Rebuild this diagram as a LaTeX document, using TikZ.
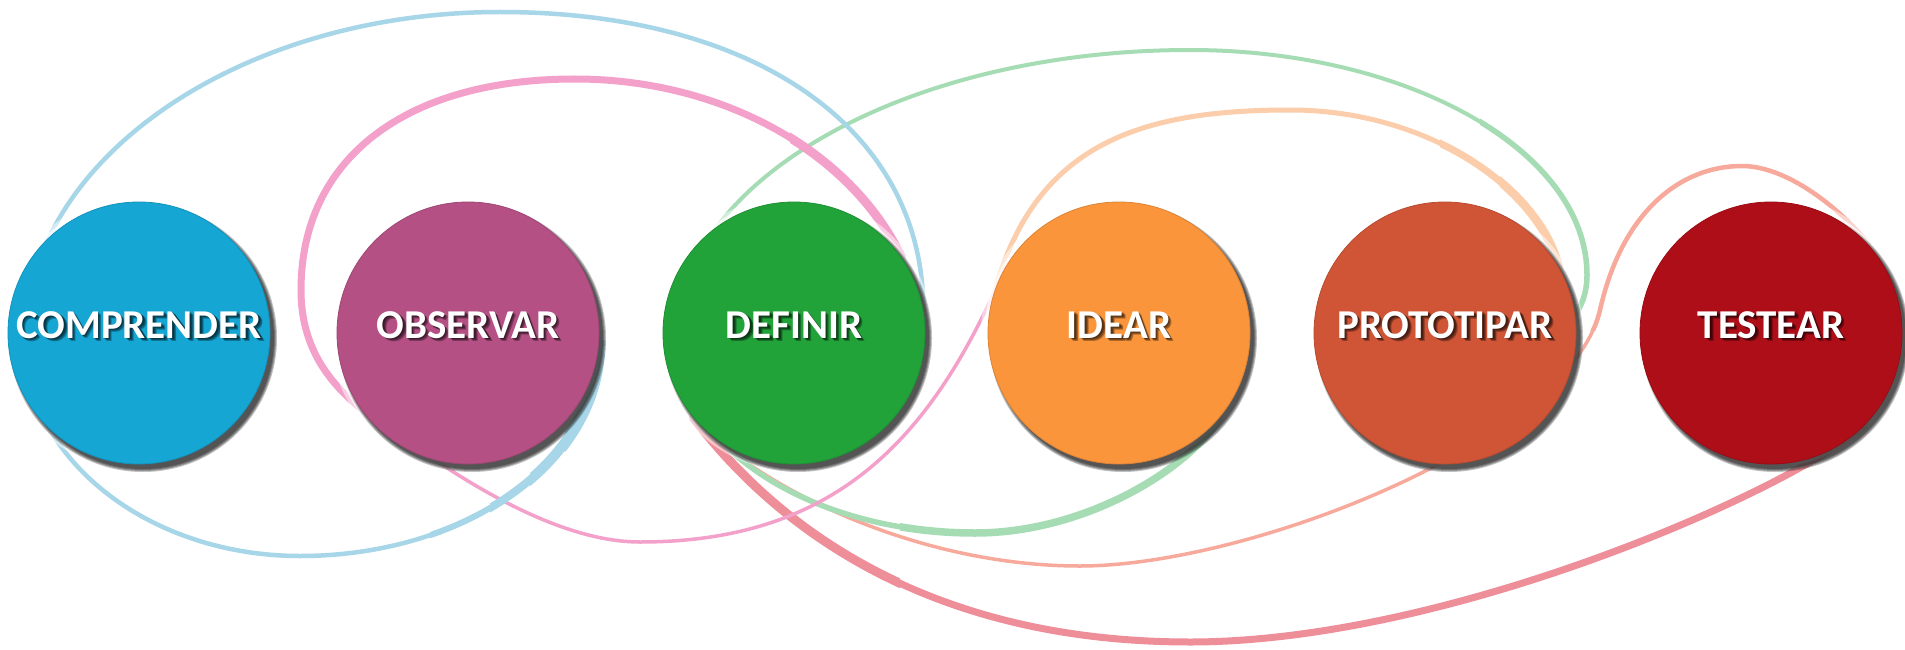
\documentclass[tikz,border=0pt]{standalone}
\usepackage{fontspec}
\setmainfont{Carlito}
\usetikzlibrary{backgrounds,calc}
\definecolor{cCom}{RGB}{22,166,212}
\definecolor{cObs}{RGB}{180,80,132}
\definecolor{cDef}{RGB}{34,163,58}
\definecolor{cIde}{RGB}{251,149,60}
\definecolor{cPro}{RGB}{208,85,54}
\definecolor{cTes}{RGB}{174,14,24}
\definecolor{lBlue}{RGB}{166,214,232}
\definecolor{lPink}{RGB}{243,160,202}
\definecolor{lGreen}{RGB}{165,220,180}
\definecolor{lPeach}{RGB}{251,205,170}
\definecolor{lSalmon}{RGB}{247,170,156}
\definecolor{lRed}{RGB}{238,142,152}
\tikzset{
  stage/.style={circle, minimum size=262pt, inner sep=0pt, draw=#1!88!black, line width=0.8pt, fill=#1},
  lbl/.style={text=white, inner sep=0pt, font=\bfseries\fontsize{41}{42}\selectfont},
  lblshadow/.style={text=black, text opacity=0.3, inner sep=0pt, font=\bfseries\fontsize{41}{42}\selectfont},
  loopline/.style={line cap=round, line join=round, line width=#1},
}
\newcommand\stagelabel[2]{%
  \foreach \sx/\sy in {1.5/6.5,2.5/5.5,3.5/4.5}{%
    \node[lblshadow] at ([xshift=\sx pt,yshift=\sy pt]#1.center) {#2};}%
  \node[lbl] (#1t) at ([yshift=8pt]#1.center) {#2};%
}
\newcommand\thickpart[4]{%
  \begin{scope}\clip #4; \draw[#2, loopline=#3] #1; \end{scope}}
\begin{document}
\begin{tikzpicture}[x=1pt,y=-1pt]
\useasboundingbox (0,0) rectangle (1905,650);
\node[stage=cCom] (com) at (139,333) {};
\node[stage=cObs] (obs) at (468,333) {};
\node[stage=cDef] (def) at (794,333) {};
\node[stage=cIde] (ide) at (1119,333) {};
\node[stage=cPro] (pro) at (1445,333) {};
\node[stage=cTes] (tes) at (1771,333) {};
\def\pBlue{(obs.east) .. controls (605,459) and (468,556) .. (300,556)
  .. controls (149,556) and (25,459) .. (25,340)
  .. controls (25,160) and (239,12) .. (500,12)
  .. controls (753,12) and (923,127) .. (def.10)}
\def\pPink{(ide.150) .. controls (934,434) and (840,542) .. (640,542)
  .. controls (560,542) and (470,484) .. (420,450)
  .. controls (370,416) and (301,380) .. (301,290)
  .. controls (301,159) and (405,79) .. (575,79)
  .. controls (720,79) and (850,150) .. (def.35)}
\def\pGreen{(ide.-40) .. controls (1189,469) and (1085,533) .. (975,533)
  .. controls (811,533) and (676,446) .. (676,340)
  .. controls (676,180) and (907,50) .. (1190,50)
  .. controls (1408,50) and (1587,151) .. (1587,275)
  .. controls (1587,295) and (1580,308) .. (pro.8)}
\def\pPeach{(ide.160) .. controls (1037,144) and (1140,110) .. (1290,110)
  .. controls (1430,110) and (1540,190) .. (pro.30)}
\def\pSalmon{(def.-130) .. controls (784,500) and (930,566) .. (1080,566)
  .. controls (1250,566) and (1570,440) .. (1600,310)
  .. controls (1622,212) and (1680,166) .. (1742,166)
  .. controls (1790,166) and (1850,215) .. (tes.35)}
\def\pRed{(def.-140) .. controls (784,537) and (940,642) .. (1190,642)
  .. controls (1450,642) and (1790,490) .. (tes.-45)}
\begin{pgfonlayer}{background}
\fill[white] (0,0) rectangle (1905,650);
\draw[lRed, loopline=7pt] \pRed;
\thickpart{\pRed}{lRed}{9pt}{(650,380) rectangle (900,650)}
\draw[lSalmon, loopline=3.5pt] \pSalmon;
\thickpart{\pSalmon}{lSalmon}{4.5pt}{(1590,0) rectangle (1905,330)}
\draw[lPeach, loopline=5pt] \pPeach;
\thickpart{\pPeach}{lPeach}{7pt}{(1440,0) rectangle (1700,330)}
\thickpart{\pPeach}{lPeach}{8.5pt}{(1500,0) rectangle (1700,330)}
\draw[lGreen, loopline=4pt] \pGreen;
\thickpart{\pGreen}{lGreen}{5.5pt}{(700,400) rectangle (1300,650)}
\thickpart{\pGreen}{lGreen}{7.5pt}{(900,400) rectangle (1300,650)}
\thickpart{\pGreen}{lGreen}{5.5pt}{(1480,0) rectangle (1700,330)}
\draw[lPink, loopline=3.5pt] \pPink;
\thickpart{\pPink}{lPink}{7pt}{(250,0) rectangle (950,300) (250,0) rectangle (425,650)}
\thickpart{\pPink}{lPink}{9pt}{(790,0) rectangle (950,300)}
\draw[lBlue, loopline=4.5pt] \pBlue;
\thickpart{\pBlue}{lBlue}{6pt}{(430,340) rectangle (700,650)}
\thickpart{\pBlue}{lBlue}{8pt}{(490,340) rectangle (700,650)}
\thickpart{\pBlue}{lBlue}{10pt}{(530,340) rectangle (700,650)}
\thickpart{\pBlue}{lBlue}{12pt}{(565,340) rectangle (700,650)}
\foreach \n in {com,obs,def,ide,pro,tes}{
  \fill[white,opacity=0.5] (\n) circle[radius=138pt];
  \fill[white,opacity=0.7] (\n) circle[radius=134.5pt];
  \foreach \rr in {134,133,132,131}
    \fill[black,opacity=0.24] ($(\n)+(4,5)$) circle[radius=\rr pt];
}
\end{pgfonlayer}
\stagelabel{com}{COMPRENDER}
\stagelabel{obs}{OBSERVAR}
\stagelabel{def}{DEFINIR}
\stagelabel{ide}{IDEAR}
\stagelabel{pro}{PROTOTIPAR}
\stagelabel{tes}{TESTEAR}
\end{tikzpicture}
\end{document}
